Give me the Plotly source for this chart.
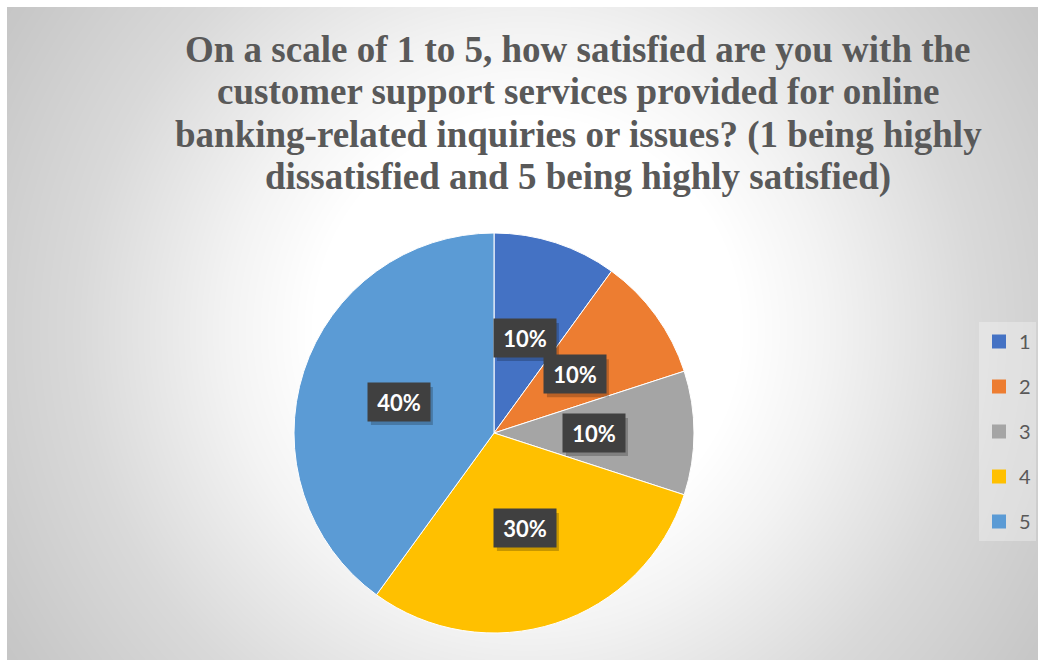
import numpy as np
import plotly.graph_objects as go

# Survey answers: satisfaction score -> share of respondents (%)
ratings = ["1", "2", "3", "4", "5"]
shares = [10, 10, 10, 30, 40]
slice_colors = ["#4472C4", "#ED7D31", "#A5A5A5", "#FFC000", "#5B9BD5"]

title_lines = [
    "On a scale of 1 to 5, how satisfied are you with the",
    "customer support services provided for online",
    "banking-related inquiries or issues? (1 being highly",
    "dissatisfied and 5 being highly satisfied)",
]

W, H = 1038, 660
# chart panel (pixels) and pie geometry
panel_x0, panel_y0 = 7, 7
pie_cx, pie_cy, pie_r = 494, 433, 200
title_cx, title_top, title_step = 578, 27, 42.4
box_w, box_h = 62, 38

# --- radial grey backdrop for the chart panel ---
gx = np.arange(panel_x0, W + 8, 8, dtype=float)
gy = np.arange(panel_y0, H + 8, 8, dtype=float)
XX, YY = np.meshgrid(gx, gy)
dist = np.hypot(XX - 527, YY - 330)
bg_scale = [
    [0.0, "rgb(255,255,255)"],
    [212 / 640, "rgb(255,255,255)"],
    [300 / 640, "rgb(243,243,243)"],
    [450 / 640, "rgb(217,217,217)"],
    [600 / 640, "rgb(199,199,199)"],
    [1.0, "rgb(196,196,196)"],
]

fig = go.Figure()
fig.add_trace(go.Heatmap(
    x=gx, y=gy, z=dist, zmin=0, zmax=640, colorscale=bg_scale,
    zsmooth="best", showscale=False, hoverinfo="skip",
))

# --- pie ---
dom_x = [(pie_cx - pie_r) / W, (pie_cx + pie_r) / W]
dom_y = [(H - pie_cy - pie_r) / H, (H - pie_cy + pie_r) / H]
fig.add_trace(go.Pie(
    labels=ratings, values=shares, sort=False, direction="clockwise",
    rotation=0, textinfo="none", showlegend=False,
    marker=dict(colors=slice_colors, line=dict(color="white", width=1)),
    domain=dict(x=dom_x, y=dom_y), hoverinfo="label+percent",
))

# --- legend entries (one group each so the spacing can be set) ---
for lab, col in zip(ratings, slice_colors):
    fig.add_trace(go.Scatter(
        x=[None], y=[None], mode="markers", name=lab, legendgroup=lab,
        marker=dict(symbol="square", size=14, color=col),
    ))

# --- percentage labels in dark boxes, half-way along each slice bisector ---
total = float(sum(shares))
cx_p = sum(dom_x) / 2
cy_p = sum(dom_y) / 2
annotations = []
shapes = []
cum = 0.0
for v in shares:
    mid = (cum + v / 2) / total * 2 * np.pi
    cum += v
    lx = cx_p + 0.5 * pie_r * np.sin(mid) / W
    ly = cy_p + 0.5 * pie_r * np.cos(mid) / H
    # soft drop shadow under the label box
    shapes.append(dict(
        type="rect", xref="paper", yref="paper", layer="above",
        x0=lx + (3 - box_w / 2) / W, x1=lx + (3 + box_w / 2) / W,
        y0=ly - (4 + box_h / 2) / H, y1=ly - (4 - box_h / 2) / H,
        fillcolor="rgba(0,0,0,0.22)", line=dict(width=0),
    ))
    annotations.append(dict(
        text=f"<b>{v / total * 100:.0f}%</b>", x=lx, y=ly, xref="paper", yref="paper",
        xanchor="center", yanchor="middle",
        showarrow=False, width=box_w - 12, height=box_h - 12, borderpad=6,
        bgcolor="#404040", font=dict(color="white", size=22, family="Lato"),
    ))

# --- title, one annotation per line for tighter line spacing ---
for i, line in enumerate(title_lines):
    annotations.append(dict(
        text=f"<b>{line}</b>", x=title_cx / W, y=1 - (title_top + i * title_step) / H,
        xref="paper", yref="paper", xanchor="center", yanchor="top",
        showarrow=False, align="center",
        font=dict(family="Liberation Serif", size=37, color="#595959"),
    ))

fig.update_layout(
    width=W, height=H, margin=dict(l=0, r=0, t=0, b=0),
    paper_bgcolor="white", plot_bgcolor="white",
    xaxis=dict(domain=[panel_x0 / W, 1], range=[panel_x0, W], visible=False, fixedrange=True),
    yaxis=dict(domain=[0, 1 - panel_y0 / H], range=[H, panel_y0], visible=False, fixedrange=True),
    showlegend=True,
    legend=dict(x=979 / W, y=1 - 322 / H, xanchor="left", yanchor="top",
                traceorder="grouped", tracegroupgap=16, itemwidth=30,
                bgcolor="rgba(255,255,255,0.3)",
                font=dict(family="Lato", size=20, color="#595959")),
    annotations=annotations,
    shapes=shapes,
)

fig.write_html("out.html")
